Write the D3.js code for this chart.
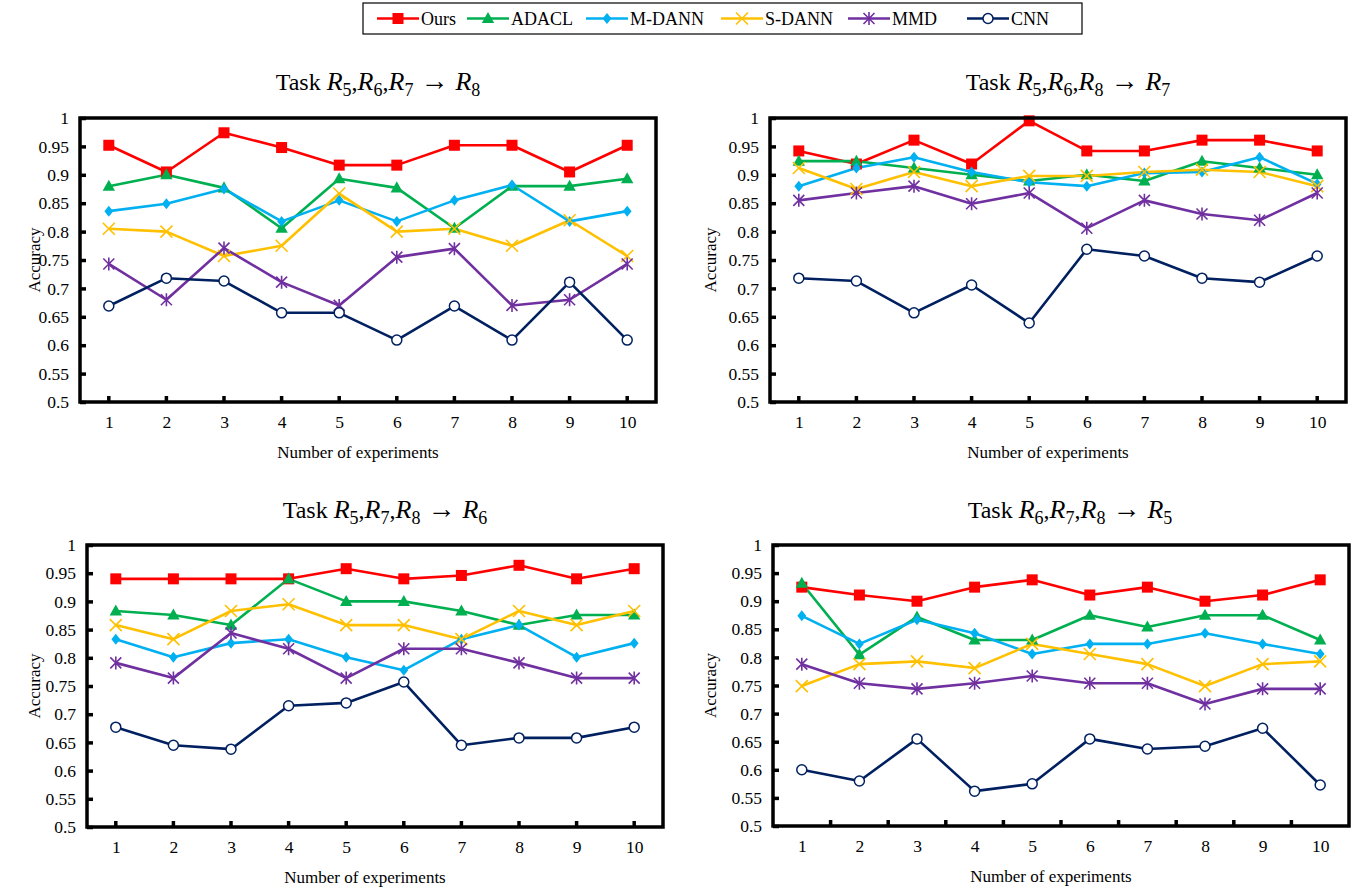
<!DOCTYPE html>
<html><head><meta charset="utf-8">
<script src="https://cdn.jsdelivr.net/npm/d3@7"></script>
<style>body{margin:0;background:#fff;} svg{display:block;} text{font-family:'Liberation Serif','Times New Roman',serif;}</style>
</head><body>
<svg id="c" width="1357" height="890"></svg>
<script>
const experiments = [1,2,3,4,5,6,7,8,9,10];
const yTicks = [0.5,0.55,0.6,0.65,0.7,0.75,0.8,0.85,0.9,0.95,1];
const methods = ["Ours","ADACL","M-DANN","S-DANN","MMD","CNN"];
const colors = ["#FF0000","#00B050","#00B0F0","#FFC000","#7030A0","#002060"];

// Task R5,R6,R7 -> R8
const t8_ours  = [0.952,0.905,0.974,0.948,0.917,0.917,0.952,0.952,0.905,0.952];
const t8_adacl = [0.880,0.900,0.877,0.806,0.893,0.877,0.806,0.880,0.880,0.893];
const t8_mdann = [0.836,0.849,0.875,0.818,0.855,0.818,0.855,0.882,0.818,0.836];
const t8_sdann = [0.805,0.800,0.757,0.775,0.867,0.800,0.805,0.775,0.820,0.757];
const t8_mmd   = [0.743,0.680,0.771,0.711,0.670,0.755,0.770,0.670,0.680,0.743];
const t8_cnn   = [0.669,0.718,0.713,0.657,0.657,0.609,0.669,0.609,0.711,0.609];

// Task R5,R6,R8 -> R7
const t7_ours  = [0.942,0.919,0.961,0.919,0.995,0.942,0.942,0.961,0.961,0.942];
const t7_adacl = [0.924,0.924,0.912,0.900,0.889,0.900,0.889,0.924,0.912,0.900];
const t7_mdann = [0.880,0.912,0.931,0.905,0.887,0.880,0.903,0.905,0.931,0.884];
const t7_sdann = [0.912,0.875,0.905,0.880,0.898,0.898,0.905,0.909,0.905,0.880];
const t7_mmd   = [0.855,0.868,0.880,0.849,0.868,0.806,0.855,0.831,0.820,0.868];
const t7_cnn   = [0.718,0.713,0.657,0.706,0.639,0.769,0.757,0.718,0.711,0.757];

// Task R5,R7,R8 -> R6
const t6_ours  = [0.940,0.940,0.940,0.940,0.958,0.940,0.946,0.964,0.940,0.958];
const t6_adacl = [0.883,0.876,0.858,0.940,0.900,0.900,0.883,0.858,0.876,0.876];
const t6_mdann = [0.833,0.801,0.826,0.833,0.801,0.778,0.833,0.858,0.801,0.826];
const t6_sdann = [0.858,0.833,0.883,0.895,0.858,0.858,0.833,0.883,0.858,0.883];
const t6_mmd   = [0.791,0.764,0.844,0.816,0.764,0.816,0.816,0.791,0.764,0.764];
const t6_cnn   = [0.677,0.645,0.638,0.715,0.720,0.757,0.645,0.658,0.658,0.677];

// Task R6,R7,R8 -> R5
const t5_ours  = [0.925,0.911,0.900,0.925,0.938,0.911,0.925,0.900,0.911,0.938];
const t5_adacl = [0.932,0.805,0.872,0.831,0.831,0.875,0.854,0.875,0.875,0.831];
const t5_mdann = [0.874,0.824,0.867,0.843,0.806,0.824,0.824,0.843,0.824,0.806];
const t5_sdann = [0.749,0.788,0.793,0.781,0.824,0.806,0.788,0.749,0.788,0.793];
const t5_mmd   = [0.788,0.754,0.744,0.754,0.767,0.754,0.754,0.717,0.744,0.744];
const t5_cnn   = [0.600,0.580,0.655,0.562,0.575,0.655,0.637,0.642,0.674,0.573];

const panelsInfo = [
  {src:["5","6","7"], dst:"8", series:[t8_ours,t8_adacl,t8_mdann,t8_sdann,t8_mmd,t8_cnn]},
  {src:["5","6","8"], dst:"7", series:[t7_ours,t7_adacl,t7_mdann,t7_sdann,t7_mmd,t7_cnn]},
  {src:["5","7","8"], dst:"6", series:[t6_ours,t6_adacl,t6_mdann,t6_sdann,t6_mmd,t6_cnn]},
  {src:["6","7","8"], dst:"5", series:[t5_ours,t5_adacl,t5_mdann,t5_sdann,t5_mmd,t5_cnn]}
];
// layout (frame boxes)
const frames = [
  {x0:80, x1:656, y0:118, y1:402, between:false, titleX:378, titleY:90, ylabX:34},
  {x0:770, x1:1346, y0:118, y1:402, between:false, titleX:1068, titleY:90, ylabX:710},
  {x0:87, x1:663, y0:545, y1:827, between:false, titleX:385, titleY:518, ylabX:34},
  {x0:773, x1:1349, y0:545, y1:826, between:true, titleX:1070, titleY:518, ylabX:710}
];

const svg = d3.select("#c");
const FONT = "'Liberation Serif','Times New Roman',serif";

function drawMarker(g, i, x, y, c) {
  if (i===0) {
    g.append("rect").attr("x",x-5.5).attr("y",y-5.5).attr("width",11).attr("height",11).attr("fill",c);
  } else if (i===1) {
    const s=6.5;
    g.append("path").attr("d",`M${x},${y-s} L${x+s*0.95},${y+s*0.7} L${x-s*0.95},${y+s*0.7} Z`).attr("fill",c);
  } else if (i===2) {
    const s=5.5;
    g.append("path").attr("d",`M${x},${y-s} L${x+s*0.8},${y} L${x},${y+s} L${x-s*0.8},${y} Z`).attr("fill",c);
  } else if (i===3) {
    const s=6;
    g.append("path").attr("d",`M${x-s},${y-s} L${x+s},${y+s} M${x-s},${y+s} L${x+s},${y-s}`).attr("stroke",c).attr("stroke-width",1.6).attr("fill","none");
  } else if (i===4) {
    const s=5.5;
    g.append("path").attr("d",`M${x-s},${y-s} L${x+s},${y+s} M${x-s},${y+s} L${x+s},${y-s} M${x},${y-s-1} L${x},${y+s+1}`).attr("stroke",c).attr("stroke-width",1.6).attr("fill","none");
  } else {
    g.append("circle").attr("cx",x).attr("cy",y).attr("r",5).attr("fill","#fff").attr("stroke",c).attr("stroke-width",1.5);
  }
}

panelsInfo.forEach((p, pi) => {
  const f = frames[pi];
  const g = svg.append("g");
  const x = d3.scalePoint().domain(experiments).range([f.x0, f.x1]).padding(0.5);
  const y = d3.scaleLinear().domain([0.5,1]).range([f.y1, f.y0]);

  p.series.forEach((vals, si) => {
    const line = d3.line().x((d,k)=>x(experiments[k])).y(d=>y(d));
    g.append("path").datum(vals).attr("d",line).attr("fill","none")
      .attr("stroke",colors[si]).attr("stroke-width",2.6).attr("stroke-linejoin","round");
  });
  p.series.forEach((vals, si) => {
    vals.forEach((v,k)=>drawMarker(g, si, x(experiments[k]), y(v), colors[si]));
  });

  g.append("rect").attr("x",f.x0).attr("y",f.y0).attr("width",f.x1-f.x0).attr("height",f.y1-f.y0)
    .attr("fill","none").attr("stroke","#000").attr("stroke-width",3.5);

  const ya = d3.axisLeft(y).tickValues(yTicks).tickSize(-6).tickPadding(11).tickFormat(d=>String(+d.toFixed(2)));
  const yg = g.append("g").attr("transform",`translate(${f.x0},0)`).call(ya).attr("font-family",FONT);
  yg.select(".domain").remove();
  yg.selectAll(".tick line").attr("stroke","#000").attr("stroke-width",3.5);
  yg.selectAll(".tick text").attr("font-family",FONT).attr("font-size",17.5).attr("fill","#000");

  const xa = d3.axisBottom(x).tickSize(0).tickPadding(14);
  const xg = g.append("g").attr("transform",`translate(0,${f.y1})`).call(xa).attr("font-family",FONT);
  xg.select(".domain").remove();
  xg.selectAll(".tick line").remove();
  xg.selectAll(".tick text").attr("font-family",FONT).attr("font-size",17.5).attr("fill","#000");
  const step = x.step();
  const tickPos = f.between ? experiments.slice(0,-1).map(e=>x(e)+step/2) : experiments.map(e=>x(e));
  g.selectAll(null).data(tickPos).enter().append("line")
    .attr("x1",d=>d).attr("x2",d=>d).attr("y1",f.y1).attr("y2",f.y1-6)
    .attr("stroke","#000").attr("stroke-width",3.5);

  g.append("text").attr("x",(f.x0+f.x1)/2 - 10).attr("y",f.y1+56).attr("text-anchor","middle")
    .attr("font-family",FONT).attr("font-size",17).text("Number of experiments");
  g.append("text").attr("transform",`translate(${f.ylabX},${(f.y0+f.y1)/2}) rotate(-90)`)
    .attr("text-anchor","middle").attr("dy","0.35em").attr("font-family",FONT).attr("font-size",17).text("Accuracy");

  // title
  const t = g.append("text").attr("x",f.titleX).attr("y",f.titleY).attr("text-anchor","middle")
    .attr("font-family",FONT).attr("font-size",24);
  t.append("tspan").text("Task ");
  const parts = p.src.concat([p.dst]);
  parts.forEach((s, k) => {
    t.append("tspan").attr("font-style","italic").attr("font-size",26).text("R");
    t.append("tspan").attr("font-size",18).attr("dy",6).text(s);
    if (k < parts.length-2) t.append("tspan").attr("dy",-6).attr("font-size",24).text(",");
    else if (k === parts.length-2) t.append("tspan").attr("dy",-6).attr("font-size",28).text(" \u2192 ");
  });
});

// legend
const lg = svg.append("g");
lg.append("rect").attr("x",363).attr("y",3).attr("width",719).attr("height",31)
  .attr("fill","#fff").attr("stroke","#000").attr("stroke-width",1.2);
const legX = [377, 467, 586, 721, 848, 967];
methods.forEach((m,i)=>{
  const x0 = legX[i], yy = 18.5;
  lg.append("line").attr("x1",x0).attr("x2",x0+42).attr("y1",yy).attr("y2",yy)
    .attr("stroke",colors[i]).attr("stroke-width",2.6);
  drawMarker(lg, i, x0+21, yy, colors[i]);
  lg.append("text").attr("x",x0+44).attr("y",yy+6).attr("font-family",FONT).attr("font-size",18).text(m);
});
</script>
</body></html>
